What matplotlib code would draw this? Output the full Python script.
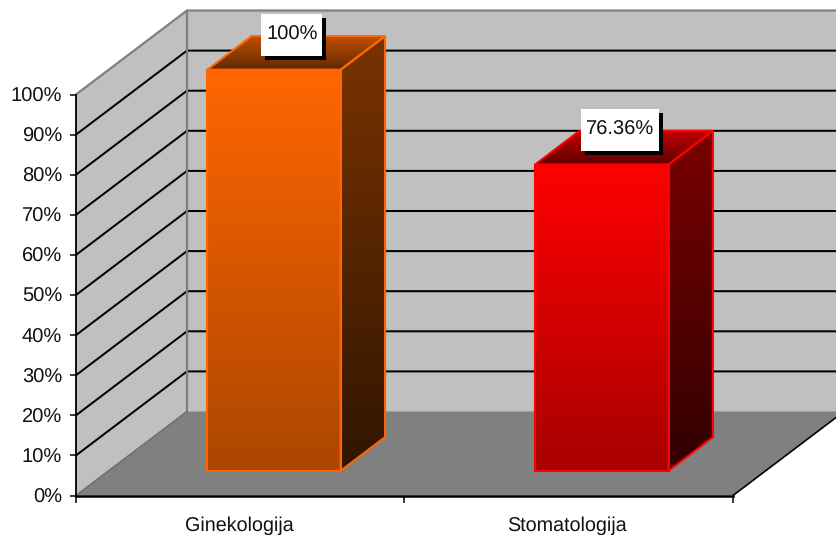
import numpy as np
import matplotlib
matplotlib.use("Agg")
import matplotlib.pyplot as plt
import matplotlib.colors as mcolors
from matplotlib.patches import Polygon, Rectangle

categories = ["Ginekologija", "Stomatologija"]
values = [100, 76.36]
value_labels = ["100%", "76.36%"]
y_ticks = [0, 10, 20, 30, 40, 50, 60, 70, 80, 90, 100]
y_tick_labels = ["0%", "10%", "20%", "30%", "40%", "50%", "60%", "70%", "80%", "90%", "100%"]

# face colours: top of front, bottom of front, top of side, bottom of side, back of lid, front of lid
bar_edges = ["#FF6600", "#FF0000"]
bar_shades = [
    ["#FF6600", "#AC4600", "#7A3300", "#301500", "#C05000", "#602800"],
    ["#FF0000", "#A80000", "#7A0000", "#300000", "#C00000", "#600000"],
]
box_widths = [61, 78]

W, H = 837, 535
LEFT, RIGHT, TOP, BOTTOM = 76, 733, 94.5, 495.5
DEPTH_X, DEPTH_Y = 111, 84

plt.rcParams["font.family"] = ["Liberation Sans", "DejaVu Sans"]
plt.rcParams["text.hinting"] = "no_hinting"

fig = plt.figure(figsize=(W / 100, H / 100), dpi=100)
ax = fig.add_axes([LEFT / W, 1 - BOTTOM / H, (RIGHT - LEFT) / W, (BOTTOM - TOP) / H])
ax.patch.set_visible(False)

px_x = 2 / (RIGHT - LEFT)
px_y = 100 / (BOTTOM - TOP)


def pt(x, y, d=0.0):
    # oblique projection, d is 0 at the front of the box and 1 at the back wall
    return (x + d * DEPTH_X * px_x, y + d * DEPTH_Y * px_y)


def face(points, **kw):
    p = Polygon(points, closed=True, clip_on=False, **kw)
    ax.add_patch(p)
    return p


def gradient(points, c_top, c_bottom, zorder):
    p = face(points, facecolor="none", edgecolor="none", zorder=zorder)
    a = np.array(mcolors.to_rgb(c_top))
    b = np.array(mcolors.to_rgb(c_bottom))
    t = np.linspace(0, 1, 256)[:, None]
    img = (a * (1 - t) + b * t)[:, None, :]
    xs = [q[0] for q in points]
    ys = [q[1] for q in points]
    im = ax.imshow(img, extent=[min(xs), max(xs), min(ys), max(ys)], origin="upper",
                   aspect="auto", interpolation="bilinear", zorder=zorder)
    im.set_clip_box(fig.bbox)
    im.set_clip_path(p)


# walls and floor
face([pt(0, 0), pt(0, 0, 1), pt(0, 100, 1), pt(0, 100)], facecolor="#C0C0C0", edgecolor="none", zorder=1)
face([pt(0, 0, 1), pt(2, 0, 1), pt(2, 100, 1), pt(0, 100, 1)], facecolor="#C0C0C0", edgecolor="none", zorder=1)
face([pt(0, 0), pt(2, 0), pt(2, 0, 1), pt(0, 0, 1)], facecolor="#808080", edgecolor="none", zorder=1)

# gridlines
for v in y_ticks[1:-1]:
    p0, p1, p2 = pt(0, v), pt(0, v, 1), pt(2, v, 1)
    ax.plot([p0[0], p1[0], p2[0]], [p0[1], p1[1], p2[1]], color="black", lw=1.45, clip_on=False, zorder=2)

# grey outline of the walls
p0, p1, p2 = pt(0, 100), pt(0, 100, 1), pt(2, 100, 1)
ax.plot([p0[0], p1[0], p2[0]], [p0[1], p1[1], p2[1]], color="#808080", lw=1.6, clip_on=False, zorder=3)
p0, p1 = pt(0, 0, 1), pt(0, 100, 1)
ax.plot([p0[0], p1[0]], [p0[1], p1[1]], color="#808080", lw=1.6, clip_on=False, zorder=3)
p0, p1 = pt(0, 0), pt(0, 0, 1)
ax.plot([p0[0], p1[0]], [p0[1], p1[1]], color="#707070", lw=1.2, clip_on=False, zorder=3)
p0, p1 = pt(2, 0), pt(2, 0, 1)
ax.plot([p0[0], p1[0]], [p0[1], p1[1]], color="black", lw=1.2, clip_on=False, zorder=3)

# bars
bar_w = 0.406
d0, d1 = 0.295, 0.695
for i, v in enumerate(values):
    x0 = i + 0.503 - bar_w / 2 - 0.002 * i
    x1 = x0 + bar_w
    z = 5 + i
    shades = bar_shades[i]
    front = [pt(x0, 0, d0), pt(x1, 0, d0), pt(x1, v, d0), pt(x0, v, d0)]
    side = [pt(x1, 0, d0), pt(x1, 0, d1), pt(x1, v, d1), pt(x1, v, d0)]
    lid = [pt(x0, v, d0), pt(x1, v, d0), pt(x1, v, d1), pt(x0, v, d1)]
    gradient(front, shades[0], shades[1], z)
    gradient(side, shades[2], shades[3], z)
    gradient(lid, shades[4], shades[5], z)
    for poly in (front, side, lid):
        face(poly, facecolor="none", edgecolor=bar_edges[i], lw=1.5, joinstyle="miter", zorder=z + 0.1)

# value labels, white box with a hard black shadow
box_h = 42
for i, v in enumerate(values):
    x0 = i + 0.503 - bar_w / 2 - 0.002 * i
    cx, cy = pt(x0 + bar_w / 2, v, d0)
    cx += 18 * px_x
    cy += 35 * px_y
    w, h = box_widths[i] * px_x, box_h * px_y
    ax.add_patch(Rectangle((cx - w / 2 + 4 * px_x, cy - h / 2 - 4 * px_y), w, h, facecolor="black",
                           edgecolor="none", clip_on=False, zorder=10))
    ax.add_patch(Rectangle((cx - w / 2, cy - h / 2), w, h, facecolor="white",
                           edgecolor="none", clip_on=False, zorder=11))
    ax.text(cx, cy, value_labels[i], ha="center", va="center", fontsize=14.5, color="#111111",
            clip_on=False, zorder=12)

# the axes themselves
ax.set_xlim(0, 2)
ax.set_ylim(0, 100)
ax.set_yticks(y_ticks)
ax.set_yticklabels(y_tick_labels)
ax.set_xticks([0, 1, 2])
ax.set_xticklabels([])
ax.set_xticks([0.496, 1.493], minor=True)
ax.set_xticklabels(categories, minor=True)
ax.tick_params(axis="y", length=4.5, width=1.1, pad=5.5, labelsize=14.5, labelcolor="#111111")
ax.tick_params(axis="x", which="major", length=5, width=1.1)
ax.tick_params(axis="x", which="minor", length=0, pad=15, labelsize=14.2, labelcolor="#111111")
for s in ("top", "right"):
    ax.spines[s].set_visible(False)
ax.spines["left"].set_linewidth(1.3)
ax.spines["bottom"].set_linewidth(1.8)
for s in ax.spines.values():
    s.set_zorder(4)

fig.savefig("out.png", dpi=100)
